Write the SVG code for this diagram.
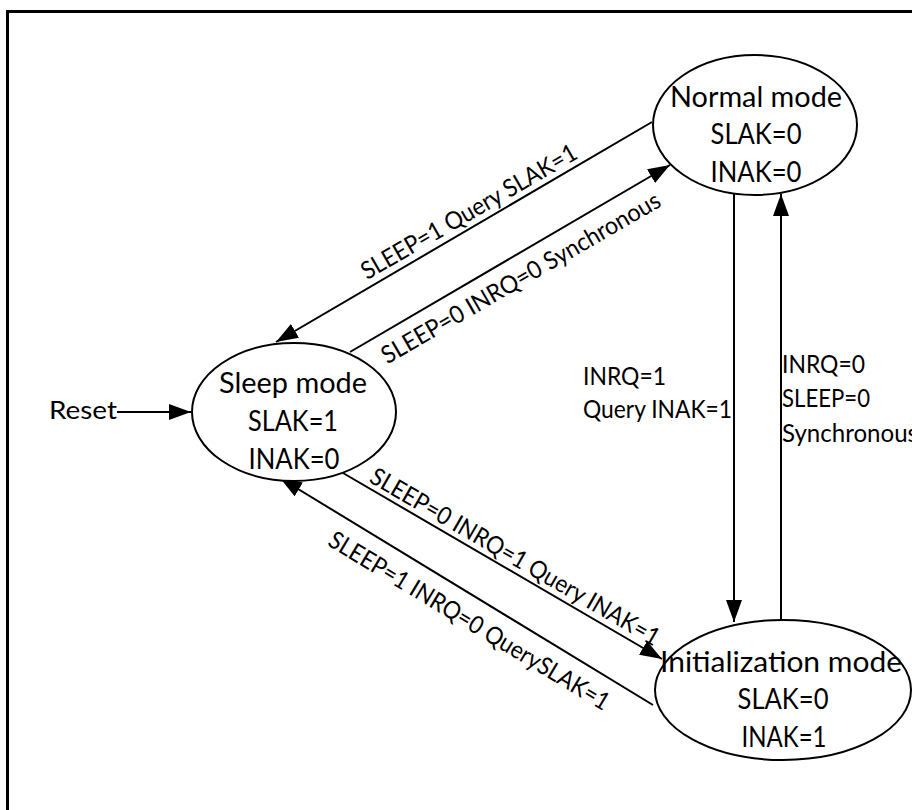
<svg xmlns="http://www.w3.org/2000/svg" width="912" height="810" viewBox="0 0 912 810">
<style>
.node ellipse{fill:#fff;stroke:#000;stroke-width:2}
.nt{font-family:Lato,"Liberation Sans",sans-serif;font-size:28px;fill:#000;text-anchor:middle}
.et{font-family:Lato,"Liberation Sans",sans-serif;font-size:24.5px;fill:#000}
.edge{stroke:#000;stroke-width:2;fill:none;marker-end:url(#arr)}
</style>
<defs>
<marker id="arr" markerUnits="userSpaceOnUse" markerWidth="22" markerHeight="16" refX="22" refY="8" orient="auto">
<path d="M0,0 L22,8 L0,16 z" fill="#000"/>
</marker>
</defs>
<rect x="0" y="0" width="912" height="810" fill="#fff"/>
<rect x="7.5" y="11.5" width="930" height="830" fill="none" stroke="#000" stroke-width="3"/>
<g id="connectors">
<line class="edge" x1="652" y1="122" x2="276" y2="342"/>
<line class="edge" x1="350" y1="352" x2="670" y2="165"/>
<line class="edge" x1="343" y1="473" x2="662" y2="659"/>
<line class="edge" x1="653" y1="705" x2="280" y2="478"/>
<line class="edge" x1="734" y1="194" x2="734" y2="622"/>
<line class="edge" x1="781" y1="623" x2="781" y2="194"/>
<line class="edge" x1="117" y1="412" x2="191" y2="412"/>
<text class="et" text-anchor="middle" textLength="245" lengthAdjust="spacingAndGlyphs" transform="translate(473,219) rotate(-30)">SLEEP=1 Query SLAK=1</text>
<text class="et" text-anchor="middle" textLength="318" lengthAdjust="spacingAndGlyphs" transform="translate(525,285) rotate(-30)">SLEEP=0 INRQ=0 Synchronous</text>
<text class="et" text-anchor="middle" textLength="330" lengthAdjust="spacingAndGlyphs" transform="translate(511,564) rotate(30)">SLEEP=0 INRQ=1 Query INAK=1</text>
<text class="et" text-anchor="middle" textLength="323" lengthAdjust="spacingAndGlyphs" transform="translate(465,628) rotate(31)">SLEEP=1 INRQ=0 QuerySLAK=1</text>
<text class="et" x="583" y="385" textLength="83" lengthAdjust="spacingAndGlyphs">INRQ=1</text>
<text class="et" x="583" y="418" textLength="149" lengthAdjust="spacingAndGlyphs">Query INAK=1</text>
<text class="et" x="782" y="373" textLength="83" lengthAdjust="spacingAndGlyphs">INRQ=0</text>
<text class="et" x="782" y="407" textLength="88" lengthAdjust="spacingAndGlyphs">SLEEP=0</text>
<text class="et" x="782" y="442" textLength="136" lengthAdjust="spacingAndGlyphs">Synchronous</text>
<text class="et" x="49" y="419" textLength="68" lengthAdjust="spacingAndGlyphs">Reset</text>
</g>
<g id="normal" class="node">
<ellipse cx="755" cy="125" rx="102" ry="70"/>
<text class="nt" x="756" y="107" textLength="172" lengthAdjust="spacingAndGlyphs">Normal mode</text>
<text class="nt" x="756" y="144" textLength="91" lengthAdjust="spacingAndGlyphs">SLAK=0</text>
<text class="nt" x="756" y="182" textLength="91" lengthAdjust="spacingAndGlyphs">INAK=0</text>
</g>
<g id="sleep" class="node">
<ellipse cx="294" cy="412" rx="102" ry="69"/>
<text class="nt" x="293" y="393" textLength="148" lengthAdjust="spacingAndGlyphs">Sleep mode</text>
<text class="nt" x="293" y="431" textLength="90" lengthAdjust="spacingAndGlyphs">SLAK=1</text>
<text class="nt" x="294" y="469" textLength="91" lengthAdjust="spacingAndGlyphs">INAK=0</text>
</g>
<g id="init" class="node">
<ellipse cx="783" cy="690" rx="128" ry="70"/>
<text class="nt" x="781" y="672" textLength="242" lengthAdjust="spacingAndGlyphs">Initialization mode</text>
<text class="nt" x="783" y="709" textLength="91" lengthAdjust="spacingAndGlyphs">SLAK=0</text>
<text class="nt" x="784" y="747" textLength="85" lengthAdjust="spacingAndGlyphs">INAK=1</text>
</g>
</svg>
